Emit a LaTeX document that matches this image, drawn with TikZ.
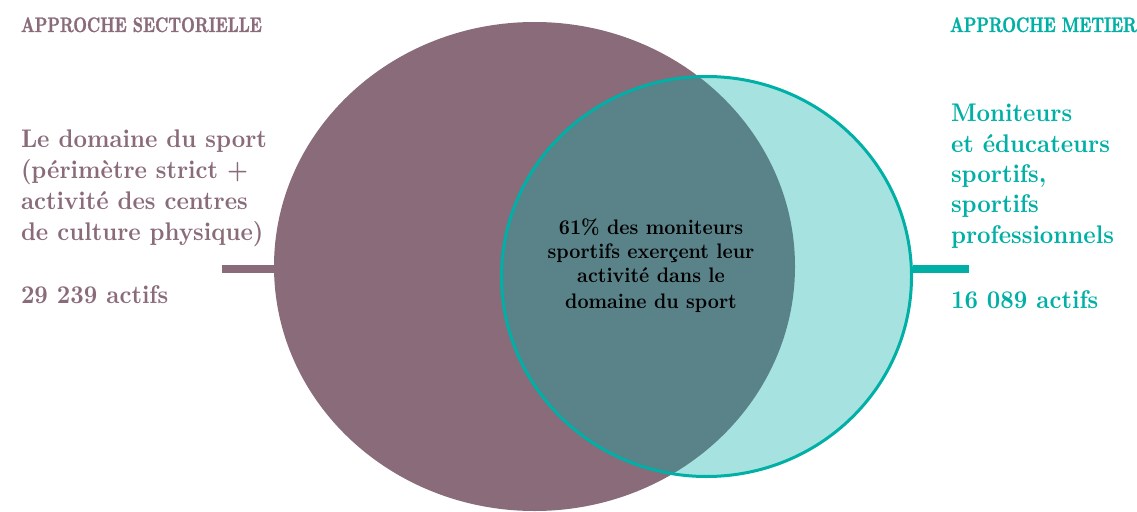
\documentclass[tikz,border=0pt]{standalone}
\usepackage{fontspec}
\setmainfont{Latin Modern Roman}
\newfontfamily\headfont{lmroman10-bold}[Extension=.otf, FakeStretch=0.76, FakeBold=1.2]
\newfontfamily\bodyfont{lmroman10-bold}[Extension=.otf, FakeStretch=0.92]
\usetikzlibrary{shapes.geometric}
\definecolor{plum}{RGB}{138,107,122}
\definecolor{tealc}{RGB}{0,175,165}
\tikzset{
  txt/.style={inner sep=0pt, outer sep=0pt},
  head/.style={txt, anchor=base west, font=\headfont\fontsize{21}{21}\selectfont},
  side/.style={txt, anchor=base west, align=left, font=\bodyfont\fontsize{25.5}{31}\selectfont},
  bar/.style={line width=8pt},
}
\begin{document}
\begin{tikzpicture}[x=1pt,y=-1pt]
\useasboundingbox (0,0) rectangle (1137,511);
% circles
\node[ellipse, fill=plum, minimum width=521pt, minimum height=489pt, inner sep=0pt, outer sep=0pt] (sect) at (534.5,266.5) {};
\node[ellipse, draw=tealc, line width=3pt, fill=tealc, fill opacity=.35, draw opacity=1, minimum width=410pt, minimum height=400pt, inner sep=0pt] (met) at (706.5,276.5) {};
% bars
\coordinate (lend) at (222,269);
\coordinate (rend) at (969,269);
\draw[bar, plum] (lend) -- (lend -| sect.west);
\draw[bar, tealc] (rend -| met.east) -- (rend);
% headings
\node[head, text=plum] (h1) at (21,32) {APPROCHE SECTORIELLE};
\node[head, text=tealc] (h2) at (950,32) {APPROCHE METIER};
% left text (anchored at the baseline of its last line)
\node[side, text=plum] (ltxt) at (21,240) {Le domaine du sport\\(périmètre strict +\\activité des centres\\de culture physique)};
\node[side, text=plum] (lnum) at (21,303) {29 239 actifs};
% right text (anchored at the baseline of its last line)
\node[side, text=tealc, font=\bodyfont\fontsize{25.5}{30.3}\selectfont] (rtxt) at (951,243) {Moniteurs\\et éducateurs\\sportifs,\\sportifs\\professionnels};
\node[side, text=tealc] (rnum) at (951,308) {16 089 actifs};
% center (anchored at the baseline of its last line)
\node[txt, anchor=base, align=center, text=black, font=\bodyfont\fontsize{21}{24}\selectfont] (ctr) at (651,308) {61\% des moniteurs\\sportifs exerçent leur\\activité dans le\\[2pt]domaine du sport};
\end{tikzpicture}
\end{document}
